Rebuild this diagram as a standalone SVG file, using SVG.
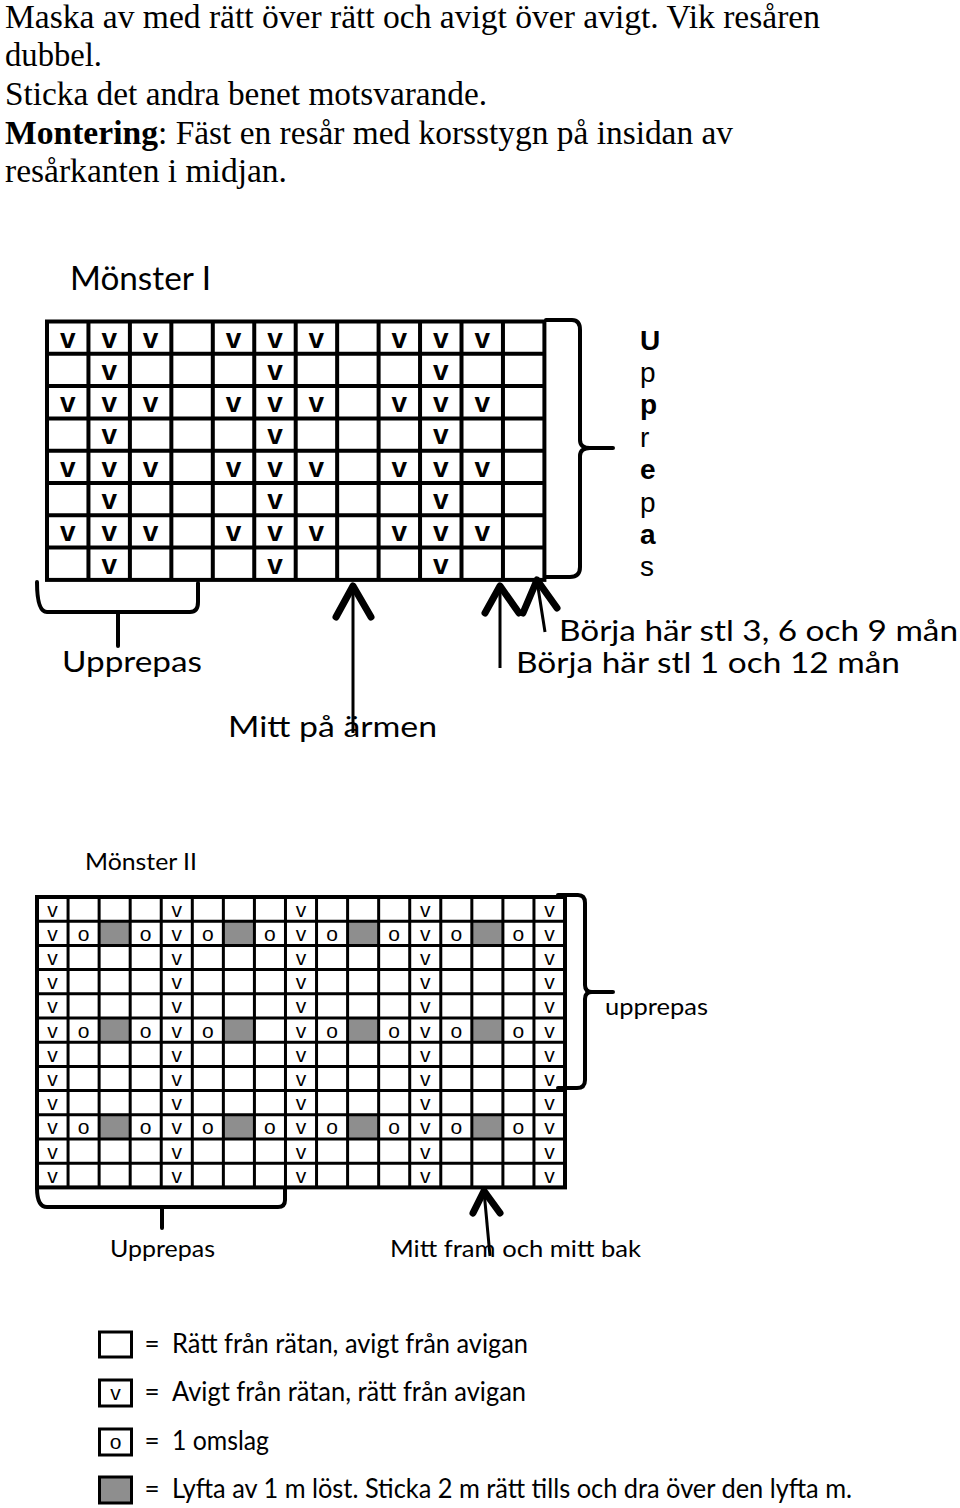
<svg xmlns="http://www.w3.org/2000/svg" width="960" height="1508" viewBox="0 0 960 1508">
<style>
.ser{font-family:"Liberation Serif","Times New Roman",serif;font-size:33px;fill:#000}
.s{font-family:Lato,"Open Sans","Liberation Sans",sans-serif;fill:#000}
.a{font-family:"Liberation Sans",Arial,sans-serif;fill:#000}
.vb{font-family:"Liberation Sans",Arial,sans-serif;font-weight:bold;font-size:28px;text-anchor:middle;fill:#000}
.c2{font-family:"Liberation Sans",Arial,sans-serif;font-size:21px;text-anchor:middle;fill:#000}
.g1{stroke:#000;stroke-width:4;fill:none}
.g2{stroke:#000;stroke-width:3;fill:none}
.br{stroke:#000;stroke-width:4;fill:none;stroke-linecap:round;stroke-linejoin:round}
.shaft{stroke:#000;stroke-width:3;fill:none}
.head{stroke:#000;stroke-width:7;fill:none;stroke-linecap:round;stroke-linejoin:round}
.gray{fill:#8e8e8e}
</style>
<rect width="960" height="1508" fill="#fff"/>

<g id="intro-text">
<text class="ser" x="5" y="28" textLength="815" lengthAdjust="spacingAndGlyphs">Maska av med rätt över rätt och avigt över avigt. Vik resåren</text>
<text class="ser" x="5" y="66" textLength="97" lengthAdjust="spacingAndGlyphs">dubbel.</text>
<text class="ser" x="5" y="105" textLength="482" lengthAdjust="spacingAndGlyphs">Sticka det andra benet motsvarande.</text>
<text class="ser" x="5" y="144" font-weight="bold" textLength="153" lengthAdjust="spacingAndGlyphs">Montering</text>
<text class="ser" x="158" y="144" textLength="575" lengthAdjust="spacingAndGlyphs">: Fäst en resår med korsstygn på insidan av</text>
<text class="ser" x="5" y="182" textLength="282" lengthAdjust="spacingAndGlyphs">resårkanten i midjan.</text>
</g>

<g id="monster1">
<text class="s" x="70" y="290" font-size="32" textLength="141" lengthAdjust="spacingAndGlyphs">Mönster I</text>
<g class="g1">
<rect x="47" y="321.5" width="497.4" height="258.4"/>
<path d="M88.45 321.5V579.9M129.9 321.5V579.9M171.35 321.5V579.9M212.8 321.5V579.9M254.25 321.5V579.9M295.7 321.5V579.9M337.15 321.5V579.9M378.6 321.5V579.9M420.05 321.5V579.9M461.5 321.5V579.9M502.95 321.5V579.9"/>
<path d="M47 353.8H544.4M47 386.1H544.4M47 418.4H544.4M47 450.7H544.4M47 483H544.4M47 515.3H544.4M47 547.6H544.4"/>
</g>
<text class="vb" x="67.7" y="347.5">v</text><text class="vb" x="109.2" y="347.5">v</text><text class="vb" x="150.6" y="347.5">v</text><text class="vb" x="233.5" y="347.5">v</text><text class="vb" x="275" y="347.5">v</text><text class="vb" x="316.4" y="347.5">v</text><text class="vb" x="399.3" y="347.5">v</text><text class="vb" x="440.8" y="347.5">v</text><text class="vb" x="482.2" y="347.5">v</text>
<text class="vb" x="109.2" y="379.8">v</text><text class="vb" x="275" y="379.8">v</text><text class="vb" x="440.8" y="379.8">v</text>
<text class="vb" x="67.7" y="412.1">v</text><text class="vb" x="109.2" y="412.1">v</text><text class="vb" x="150.6" y="412.1">v</text><text class="vb" x="233.5" y="412.1">v</text><text class="vb" x="275" y="412.1">v</text><text class="vb" x="316.4" y="412.1">v</text><text class="vb" x="399.3" y="412.1">v</text><text class="vb" x="440.8" y="412.1">v</text><text class="vb" x="482.2" y="412.1">v</text>
<text class="vb" x="109.2" y="444.4">v</text><text class="vb" x="275" y="444.4">v</text><text class="vb" x="440.8" y="444.4">v</text>
<text class="vb" x="67.7" y="476.7">v</text><text class="vb" x="109.2" y="476.7">v</text><text class="vb" x="150.6" y="476.7">v</text><text class="vb" x="233.5" y="476.7">v</text><text class="vb" x="275" y="476.7">v</text><text class="vb" x="316.4" y="476.7">v</text><text class="vb" x="399.3" y="476.7">v</text><text class="vb" x="440.8" y="476.7">v</text><text class="vb" x="482.2" y="476.7">v</text>
<text class="vb" x="109.2" y="509">v</text><text class="vb" x="275" y="509">v</text><text class="vb" x="440.8" y="509">v</text>
<text class="vb" x="67.7" y="541.3">v</text><text class="vb" x="109.2" y="541.3">v</text><text class="vb" x="150.6" y="541.3">v</text><text class="vb" x="233.5" y="541.3">v</text><text class="vb" x="275" y="541.3">v</text><text class="vb" x="316.4" y="541.3">v</text><text class="vb" x="399.3" y="541.3">v</text><text class="vb" x="440.8" y="541.3">v</text><text class="vb" x="482.2" y="541.3">v</text>
<text class="vb" x="109.2" y="573.6">v</text><text class="vb" x="275" y="573.6">v</text><text class="vb" x="440.8" y="573.6">v</text>
</g>

<g id="monster1-labels">
<g id="upprepas-vertical" font-size="28">
<text class="a" x="640" y="349.5" font-weight="bold">U</text>
<text class="a" x="640" y="381.9">p</text>
<text class="a" x="640" y="414.3" font-weight="bold">p</text>
<text class="a" x="640" y="446.7">r</text>
<text class="a" x="640" y="479.1" font-weight="bold">e</text>
<text class="a" x="640" y="511.5">p</text>
<text class="a" x="640" y="543.9" font-weight="bold">a</text>
<text class="a" x="640" y="576.3">s</text>
</g>
<text class="s" x="62" y="672" font-size="29" textLength="140" lengthAdjust="spacingAndGlyphs">Upprepas</text>
<text class="s" x="228" y="737" font-size="29" textLength="209" lengthAdjust="spacingAndGlyphs">Mitt på ärmen</text>
<text class="s" x="559" y="641" font-size="29" textLength="399" lengthAdjust="spacingAndGlyphs">Börja här stl 3, 6 och 9 mån</text>
<text class="s" x="516" y="673" font-size="29" textLength="384" lengthAdjust="spacingAndGlyphs">Börja här stl 1 och 12 mån</text>
</g>

<g id="monster2">
<text class="s" x="85" y="870" font-size="23" textLength="112" lengthAdjust="spacingAndGlyphs">Mönster II</text>
<g class="gray">
<rect x="99.1" y="921.2" width="31.1" height="24.2"/><rect x="223.4" y="921.2" width="31.1" height="24.2"/><rect x="347.6" y="921.2" width="31.1" height="24.2"/><rect x="471.9" y="921.2" width="31.1" height="24.2"/>
<rect x="99.1" y="1018" width="31.1" height="24.2"/><rect x="223.4" y="1018" width="31.1" height="24.2"/><rect x="347.6" y="1018" width="31.1" height="24.2"/><rect x="471.9" y="1018" width="31.1" height="24.2"/>
<rect x="99.1" y="1114.8" width="31.1" height="24.2"/><rect x="223.4" y="1114.8" width="31.1" height="24.2"/><rect x="347.6" y="1114.8" width="31.1" height="24.2"/><rect x="471.9" y="1114.8" width="31.1" height="24.2"/>
</g>
<g class="g2">
<path d="M68.06 897V1187.4M99.12 897V1187.4M130.18 897V1187.4M161.24 897V1187.4M192.3 897V1187.4M223.36 897V1187.4M254.42 897V1187.4M285.48 897V1187.4M316.54 897V1187.4M347.6 897V1187.4M378.66 897V1187.4M409.72 897V1187.4M440.78 897V1187.4M471.84 897V1187.4M502.9 897V1187.4M533.96 897V1187.4"/>
<path d="M37 921.2H565M37 945.4H565M37 969.6H565M37 993.8H565M37 1018H565M37 1042.2H565M37 1066.4H565M37 1090.6H565M37 1114.8H565M37 1139H565M37 1163.2H565"/>
<rect x="37" y="897" width="528" height="290.4" stroke-width="4"/>
</g>
<g id="m2-v">
<text class="c2" x="52.5" y="916.5">v</text><text class="c2" x="176.7" y="916.5">v</text><text class="c2" x="301" y="916.5">v</text><text class="c2" x="425.2" y="916.5">v</text><text class="c2" x="549.5" y="916.5">v</text>
<text class="c2" x="52.5" y="940.7">v</text><text class="c2" x="176.7" y="940.7">v</text><text class="c2" x="301" y="940.7">v</text><text class="c2" x="425.2" y="940.7">v</text><text class="c2" x="549.5" y="940.7">v</text>
<text class="c2" x="52.5" y="964.9">v</text><text class="c2" x="176.7" y="964.9">v</text><text class="c2" x="301" y="964.9">v</text><text class="c2" x="425.2" y="964.9">v</text><text class="c2" x="549.5" y="964.9">v</text>
<text class="c2" x="52.5" y="989.1">v</text><text class="c2" x="176.7" y="989.1">v</text><text class="c2" x="301" y="989.1">v</text><text class="c2" x="425.2" y="989.1">v</text><text class="c2" x="549.5" y="989.1">v</text>
<text class="c2" x="52.5" y="1013.3">v</text><text class="c2" x="176.7" y="1013.3">v</text><text class="c2" x="301" y="1013.3">v</text><text class="c2" x="425.2" y="1013.3">v</text><text class="c2" x="549.5" y="1013.3">v</text>
<text class="c2" x="52.5" y="1037.5">v</text><text class="c2" x="176.7" y="1037.5">v</text><text class="c2" x="301" y="1037.5">v</text><text class="c2" x="425.2" y="1037.5">v</text><text class="c2" x="549.5" y="1037.5">v</text>
<text class="c2" x="52.5" y="1061.7">v</text><text class="c2" x="176.7" y="1061.7">v</text><text class="c2" x="301" y="1061.7">v</text><text class="c2" x="425.2" y="1061.7">v</text><text class="c2" x="549.5" y="1061.7">v</text>
<text class="c2" x="52.5" y="1085.9">v</text><text class="c2" x="176.7" y="1085.9">v</text><text class="c2" x="301" y="1085.9">v</text><text class="c2" x="425.2" y="1085.9">v</text><text class="c2" x="549.5" y="1085.9">v</text>
<text class="c2" x="52.5" y="1110.1">v</text><text class="c2" x="176.7" y="1110.1">v</text><text class="c2" x="301" y="1110.1">v</text><text class="c2" x="425.2" y="1110.1">v</text><text class="c2" x="549.5" y="1110.1">v</text>
<text class="c2" x="52.5" y="1134.3">v</text><text class="c2" x="176.7" y="1134.3">v</text><text class="c2" x="301" y="1134.3">v</text><text class="c2" x="425.2" y="1134.3">v</text><text class="c2" x="549.5" y="1134.3">v</text>
<text class="c2" x="52.5" y="1158.5">v</text><text class="c2" x="176.7" y="1158.5">v</text><text class="c2" x="301" y="1158.5">v</text><text class="c2" x="425.2" y="1158.5">v</text><text class="c2" x="549.5" y="1158.5">v</text>
<text class="c2" x="52.5" y="1182.7">v</text><text class="c2" x="176.7" y="1182.7">v</text><text class="c2" x="301" y="1182.7">v</text><text class="c2" x="425.2" y="1182.7">v</text><text class="c2" x="549.5" y="1182.7">v</text>
</g>
<g id="m2-o">
<text class="c2" x="83.6" y="940.7">o</text><text class="c2" x="145.7" y="940.7">o</text><text class="c2" x="207.8" y="940.7">o</text><text class="c2" x="269.9" y="940.7">o</text><text class="c2" x="332" y="940.7">o</text><text class="c2" x="394.2" y="940.7">o</text><text class="c2" x="456.3" y="940.7">o</text><text class="c2" x="518.4" y="940.7">o</text>
<text class="c2" x="83.6" y="1037.5">o</text><text class="c2" x="145.7" y="1037.5">o</text><text class="c2" x="207.8" y="1037.5">o</text><text class="c2" x="332" y="1037.5">o</text><text class="c2" x="394.2" y="1037.5">o</text><text class="c2" x="456.3" y="1037.5">o</text><text class="c2" x="518.4" y="1037.5">o</text>
<text class="c2" x="83.6" y="1134.3">o</text><text class="c2" x="145.7" y="1134.3">o</text><text class="c2" x="207.8" y="1134.3">o</text><text class="c2" x="269.9" y="1134.3">o</text><text class="c2" x="332" y="1134.3">o</text><text class="c2" x="394.2" y="1134.3">o</text><text class="c2" x="456.3" y="1134.3">o</text><text class="c2" x="518.4" y="1134.3">o</text>
</g>
</g>

<g id="monster2-labels">
<text class="s" x="605" y="1015" font-size="23" textLength="103" lengthAdjust="spacingAndGlyphs">upprepas</text>
<text class="s" x="110" y="1257" font-size="24" textLength="105" lengthAdjust="spacingAndGlyphs">Upprepas</text>
<text class="s" x="390" y="1257" font-size="24" textLength="251" lengthAdjust="spacingAndGlyphs">Mitt fram och mitt bak</text>
</g>

<g id="connectors">
<path class="br" d="M546 320H572Q580 320 580 330V440Q580 448 590 448H613M590 448Q580 448 580 456V567Q580 577 570 577H546"/>
<path class="br" d="M37 582Q37 612 47 612H190Q198 612 198 602V583M118 612V646"/>
<path class="br" d="M558 895H578Q585 895 585 903V985Q585 992 592 992H613M592 992Q585 992 585 999V1080Q585 1088 577 1088H558" stroke-width="3.5"/>
<path class="br" d="M37 1188Q37 1207 47 1207H278Q285 1207 285 1200V1188M162 1207V1228" stroke-width="3.5"/>
<line class="shaft" x1="353" y1="586" x2="353" y2="733"/>
<path class="head" d="M336 617L353 586L371 617"/>
<line class="shaft" x1="500" y1="586" x2="500" y2="668"/>
<path class="head" d="M485 613L500 586L519 613"/>
<line class="shaft" x1="537" y1="581" x2="545" y2="632"/>
<path class="head" d="M523 613L537 580L557 608"/>
<line class="shaft" x1="484" y1="1191" x2="490" y2="1256" stroke-width="2.5"/>
<path class="head" d="M473 1213L484 1191L500 1213" stroke-width="6"/>
</g>

<g id="legend">
<g class="g2" stroke-width="3.5">
<rect x="99.5" y="1332" width="32" height="25"/>
<rect x="99.5" y="1380" width="32" height="26"/>
<rect x="99.5" y="1429" width="32" height="26"/>
<rect x="99.5" y="1477" width="32" height="26" fill="#8e8e8e"/>
</g>
<text class="c2" x="115.5" y="1400">v</text>
<text class="c2" x="115.5" y="1449">o</text>
<text class="s" x="152" y="1353" font-size="26" text-anchor="middle">=</text>
<text class="s" x="152" y="1401" font-size="26" text-anchor="middle">=</text>
<text class="s" x="152" y="1450" font-size="26" text-anchor="middle">=</text>
<text class="s" x="152" y="1498" font-size="26" text-anchor="middle">=</text>
<text class="s" x="172" y="1353" font-size="26" textLength="356" lengthAdjust="spacingAndGlyphs">Rätt från rätan, avigt från avigan</text>
<text class="s" x="172" y="1401" font-size="26" textLength="354" lengthAdjust="spacingAndGlyphs">Avigt från rätan, rätt från avigan</text>
<text class="s" x="172" y="1450" font-size="26" textLength="97" lengthAdjust="spacingAndGlyphs">1 omslag</text>
<text class="s" x="172" y="1498" font-size="26" textLength="680" lengthAdjust="spacingAndGlyphs">Lyfta av 1 m löst. Sticka 2 m rätt tills och dra över den lyfta m.</text>
</g>
</svg>
